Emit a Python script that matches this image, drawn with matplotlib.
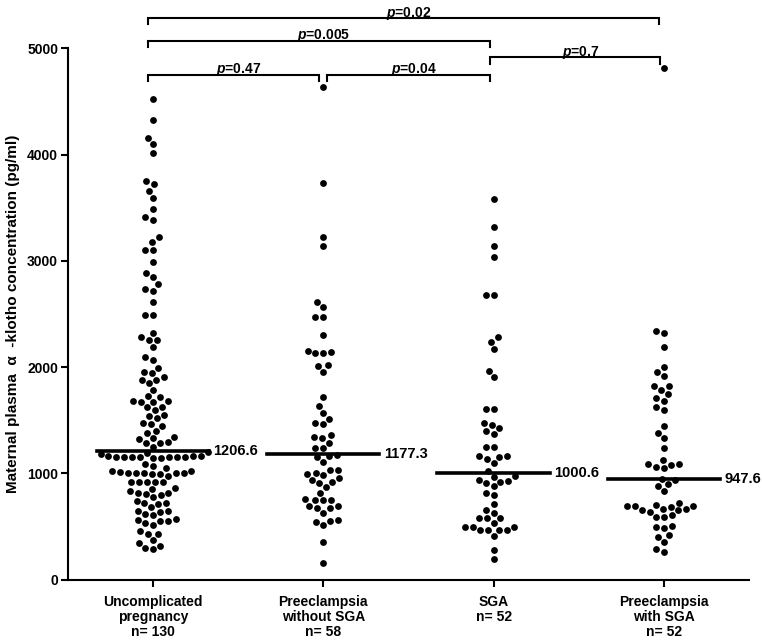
import numpy as np
import matplotlib
matplotlib.use('Agg')
import matplotlib.pyplot as plt

plt.rcParams['font.family'] = ['Liberation Sans', 'DejaVu Sans']
plt.rcParams['font.weight'] = 'bold'
plt.rcParams['mathtext.fontset'] = 'custom'
plt.rcParams['mathtext.it'] = 'Liberation Sans:italic:bold'
plt.rcParams['mathtext.rm'] = 'Liberation Sans:bold'

# data (pg/ml)
uncomplicated = [4520, 4330, 4155, 4100, 4020, 3750, 3720, 3660, 3595, 3490, 3410, 3385,
                 3225, 3180, 3105, 3105, 2985, 2885, 2845, 2780, 2740, 2720, 2610, 2490, 2490,
                 2318, 2280, 2255, 2255, 2192, 2092, 2067, 1989, 1951, 1942, 1904, 1878, 1847,
                 1878, 1784, 1716, 1728, 1680, 1676, 1672, 1678, 1627, 1625, 1596, 1549, 1540,
                 1518, 1471, 1464, 1445, 1401, 1382, 1345, 1330, 1320, 1282, 1288, 1298, 1250,
                 1200, 1195, 1185,
                 1160, 1155, 1150, 1158, 1145, 1152, 1160, 1148, 1155, 1150, 1158, 1162, 1090,
                 1069, 1025, 1015, 1000, 1000, 993, 993, 1000, 1000, 975, 1006, 1025, 1047,
                 921, 921, 921, 921, 921,
                 849, 817, 774, 805, 796, 812, 836, 859,
                 723, 711, 723, 742,
                 680, 648, 617, 607, 638, 648,
                 567, 554, 513, 529, 554, 560,
                 428, 428, 460,
                 372, 315, 284, 294, 347]
pe_no_sga = [4635, 3735, 3225, 3140, 2616, 2569, 2469, 2469, 2302, 2140, 2130, 2130, 2150,
             2010, 2020, 1957, 1721, 1634, 1571, 1511, 1461, 1470, 1345, 1330, 1360, 1288,
             1235, 1240, 1170, 1150, 1165, 1109, 1031, 1006, 984, 953, 937, 993, 1031,
             921, 911, 868, 817, 753, 748, 758, 753, 692, 670, 629, 670, 692,
             554, 513, 544, 560, 356, 153]
sga = [3583, 3319, 3140, 3036, 2679, 2679, 2239, 2281, 2168, 1966, 1904, 1603, 1603,
       1455, 1471, 1424, 1398, 1370, 1252, 1252, 1163, 1132, 1094, 1150, 1163,
       1025, 975, 968, 930, 911, 880, 921, 937, 796, 817, 711, 654, 623,
       576, 535, 576, 576, 466, 466, 497, 497, 497, 466, 466, 410, 278, 190]
pe_sga = [4816, 2318, 2343, 2186, 1957, 2004, 1916, 1822, 1784, 1822, 1747,
          1707, 1684, 1621, 1596, 1445, 1377, 1330, 1235, 1125,
          1088, 1063, 1050, 1075, 1088, 937, 950, 883, 899, 836,
          700, 690, 685, 690, 690, 725, 660, 650, 650, 640, 660,
          591, 585, 606, 504, 482, 497, 403, 416, 356, 262, 284]

groups = [uncomplicated, pe_no_sga, sga, pe_sga]
medians = [1206.6, 1177.3, 1000.6, 947.6]
labels = ['Uncomplicated\npregnancy\nn= 130', 'Preeclampsia\nwithout SGA\nn= 58',
          'SGA\nn= 52', 'Preeclampsia\nwith SGA\nn= 52']

# comparisons: (left x, right x, height, text)
brackets = [(-0.03, 0.975, 4750, '0.47'),
            (1.02, 1.98, 4750, '0.04'),
            (1.98, 2.98, 4915, '0.7'),
            (-0.03, 1.98, 5071, '0.005'),
            (-0.03, 2.97, 5285, '0.02')]

fig = plt.figure(figsize=(7.62, 6.42), dpi=100)
ax = fig.add_axes([0.089, 0.0973, 0.894, 0.8272])
ax.set_xlim(-0.5, 3.5)
ax.set_ylim(0, 5000)

# pixel scale of the axes, for the swarm layout
px_x = 0.894 * 762 / 4.0
px_y = 0.8272 * 642 / 5000.0


def swarm(vals, dmin=8.0):
    y = np.array(vals) * px_y
    xs = np.zeros(len(y))
    placed = []
    for i in np.argsort(y):
        near = [(px, py) for px, py in placed if abs(py - y[i]) < dmin]
        ivs = []
        for px, py in near:
            w = np.sqrt(dmin ** 2 - (py - y[i]) ** 2)
            ivs.append((px - w, px + w))
        cands = [0.0] + [e for iv in ivs for e in iv]
        cands.sort(key=lambda c: (abs(c), c))
        for c in cands:
            if all(not (a + 1e-6 < c < b - 1e-6) for a, b in ivs):
                break
        xs[i] = c
        placed.append((c, y[i]))
    return xs / px_x


for i, vals in enumerate(groups):
    x = i + swarm(vals)
    ax.scatter(x, vals, s=24, color='black', linewidths=0, zorder=3, clip_on=False)
    ax.plot([i - 0.33, i + 0.33], [medians[i], medians[i]], color='black', lw=2.6, zorder=4)
    ax.text(i + 0.355, medians[i], f'{medians[i]:.1f}', va='center', ha='left',
            fontsize=10.5, fontweight='bold')

tick = 58
for x0, x1, h, p in brackets:
    ax.plot([x0, x0, x1, x1], [h - tick, h, h, h - tick], color='black', lw=1.5,
            clip_on=False, solid_joinstyle='miter')
    ax.text((x0 + x1) / 2 + 0.03, h + 15, r'$\it{p}$=' + p, ha='center', va='baseline',
            fontsize=10, fontweight='bold')

ax.set_xticks(range(4))
ax.set_xticklabels(labels, fontsize=10, fontweight='bold', linespacing=1.1)
ax.set_yticks(range(0, 5001, 1000))
ax.set_yticklabels([str(v) for v in range(0, 5001, 1000)], fontsize=10, fontweight='bold')
ax.tick_params(direction='out', length=5, width=1.5, pad=2)
ax.tick_params(axis='x', pad=6)
ax.set_ylabel('Maternal plasma  α  -klotho concentration (pg/ml)', fontsize=11,
              fontweight='bold', labelpad=5)
for s in ['top', 'right']:
    ax.spines[s].set_visible(False)
for s in ['left', 'bottom']:
    ax.spines[s].set_linewidth(1.5)

fig.savefig('out.png', dpi=100)
